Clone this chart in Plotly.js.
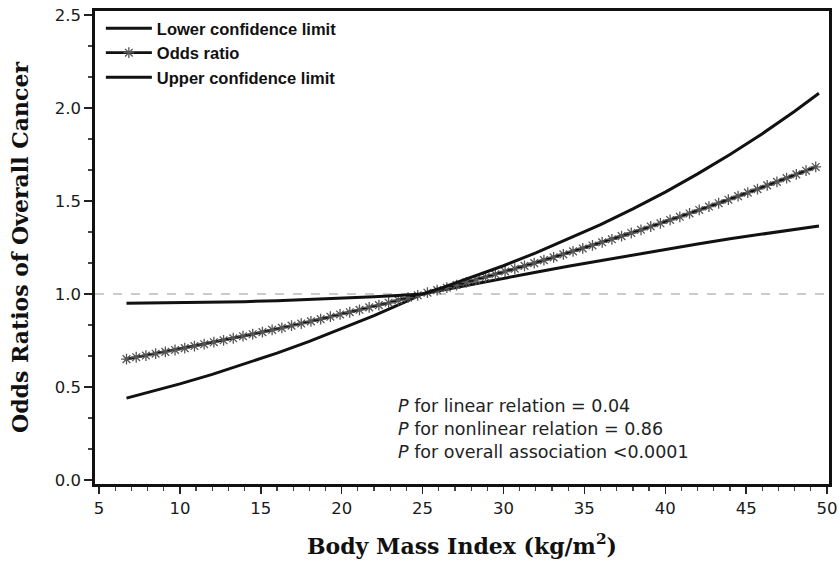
<!DOCTYPE html>
<html>
<head>
<meta charset="utf-8">
<script src="https://cdn.plot.ly/plotly-3.0.1.min.js"></script>
<style>html,body{margin:0;padding:0;background:#fff;}#chart{width:840px;height:567px;}</style>
</head>
<body>
<div id="chart"></div>
<script>
// Body mass index grid for the odds ratio curve (one marker per point)
const bmi = [6.7, 7.3, 7.9, 8.5, 9.1, 9.7, 10.3, 10.9, 11.5, 12.1, 12.7, 13.3, 13.9, 14.5, 15.1, 15.7,
  16.3, 16.9, 17.5, 18.1, 18.7, 19.3, 19.9, 20.5, 21.1, 21.7, 22.3, 22.9, 23.5, 24.1, 24.7, 25.3,
  25.9, 26.5, 27.1, 27.7, 28.3, 28.9, 29.5, 30.1, 30.7, 31.3, 31.9, 32.5, 33.1, 33.7, 34.3, 34.9,
  35.5, 36.1, 36.7, 37.3, 37.9, 38.5, 39.1, 39.7, 40.3, 40.9, 41.5, 42.1, 42.7, 43.3, 43.9, 44.5,
  45.1, 45.7, 46.3, 46.9, 47.5, 48.1, 48.7, 49.3];
const oddsRatio = [0.650, 0.660, 0.669, 0.679, 0.689, 0.699, 0.709, 0.720, 0.730, 0.741, 0.751, 0.762,
  0.773, 0.784, 0.795, 0.807, 0.818, 0.830, 0.841, 0.853, 0.865, 0.878, 0.890, 0.902, 0.915, 0.928,
  0.940, 0.953, 0.967, 0.980, 0.993, 1.007, 1.021, 1.034, 1.048, 1.063, 1.077, 1.091, 1.106, 1.121,
  1.136, 1.151, 1.166, 1.182, 1.197, 1.213, 1.229, 1.245, 1.261, 1.278, 1.294, 1.311, 1.328, 1.345,
  1.363, 1.380, 1.398, 1.415, 1.433, 1.452, 1.470, 1.488, 1.507, 1.526, 1.545, 1.564, 1.584, 1.603,
  1.623, 1.643, 1.663, 1.683];

// Confidence limits
const ciBmi = [6.7, 8, 10, 12, 14, 16, 18, 20, 22, 24, 25, 26, 28, 30, 32, 34, 36, 38, 40, 42, 44, 46, 48, 49.5];
const lowerCL = [0.440, 0.469, 0.517, 0.568, 0.623, 0.682, 0.745, 0.813, 0.884, 0.960, 1.000,
  1.017, 1.051, 1.084, 1.117, 1.149, 1.180, 1.211, 1.241, 1.269, 1.297, 1.323, 1.348, 1.366];
const upperCL = [0.950, 0.951, 0.952, 0.955, 0.959, 0.964, 0.970, 0.977, 0.985, 0.995, 1.000,
  1.028, 1.088, 1.152, 1.221, 1.295, 1.373, 1.458, 1.548, 1.646, 1.750, 1.862, 1.983, 2.079];

const refValue = 1.0;
const seriesNames = ['Lower confidence limit', 'Odds ratio', 'Upper confidence limit'];
const xTicks = [5, 10, 15, 20, 25, 30, 35, 40, 45, 50];
const yTicks = [0, 0.5, 1.0, 1.5, 2.0, 2.5];
const pText = ['<i>P</i> for linear relation = 0.04',
               '<i>P</i> for nonlinear relation = 0.86',
               '<i>P</i> for overall association &lt;0.0001'];

const traces = [
  {x: ciBmi, y: lowerCL, name: seriesNames[0], type: 'scatter', mode: 'lines',
   line: {color: '#111', width: 3}},
  {x: bmi, y: oddsRatio, name: seriesNames[1], type: 'scatter', mode: 'lines+markers',
   line: {color: '#111', width: 2.8},
   marker: {symbol: 'asterisk-open', size: 9, color: '#555', line: {color: '#555', width: 1.3}}},
  {x: ciBmi, y: upperCL, name: seriesNames[2], type: 'scatter', mode: 'lines',
   line: {color: '#111', width: 3}}
];

const tickFont = {family: 'DejaVu Sans, sans-serif', size: 16.5, color: '#1a1a1a'};
const titleFont = {family: 'DejaVu Serif, serif', size: 22, color: '#111', weight: 'bold'};

const layout = {
  width: 840, height: 567,
  margin: {l: 95, r: 11, t: 11, b: 83},
  paper_bgcolor: '#fff', plot_bgcolor: '#fff',
  showlegend: true,
  legend: {x: 0.008, y: 1.0, xanchor: 'left', yanchor: 'top', bgcolor: 'rgba(0,0,0,0)',
           font: {family: 'Liberation Sans, Arial, sans-serif', size: 16.5, color: '#111', weight: 'bold'},
           itemwidth: 46, tracegroupgap: 0},
  xaxis: {range: [4.753, 50.12], tickvals: xTicks, ticks: 'outside', ticklen: 7, tickwidth: 1.5,
          tickcolor: '#222', showgrid: false, zeroline: false, showline: true, mirror: true,
          linecolor: '#111', linewidth: 2.8, tickfont: tickFont,
          minor: {dtick: 1, tick0: 0, ticks: 'outside', ticklen: 4, tickwidth: 1.2, tickcolor: '#444', showgrid: false},
          title: {text: 'Body Mass Index (kg/m<sup>2</sup>)', font: titleFont, standoff: 22}},
  yaxis: {range: [-0.0215, 2.5215], tickvals: yTicks, tickformat: '.1f', ticks: 'outside', ticklen: 8,
          tickwidth: 1.5, tickcolor: '#222', showgrid: false, zeroline: false, showline: true, mirror: true,
          linecolor: '#111', linewidth: 2.8, tickfont: tickFont,
          minor: {dtick: 0.5 / 3, tick0: 0, ticks: 'outside', ticklen: 4, tickwidth: 1.2, tickcolor: '#444', showgrid: false},
          title: {text: 'Odds Ratios of Overall Cancer', font: titleFont, standoff: 20}},
  shapes: [{type: 'line', xref: 'paper', x0: 0, x1: 1, yref: 'y', y0: refValue, y1: refValue,
            line: {color: '#bbb', width: 1.5, dash: 'dash'}, layer: 'below'}],
  annotations: [{xref: 'paper', yref: 'paper', x: 0.41, y: 0.19, xanchor: 'left', yanchor: 'top',
                 align: 'left', showarrow: false, text: pText.join('<br>'),
                 font: {family: 'DejaVu Sans, sans-serif', size: 17.5, color: '#222'}}]
};

Plotly.newPlot('chart', traces, layout, {displayModeBar: false, staticPlot: true});
</script>
</body>
</html>
